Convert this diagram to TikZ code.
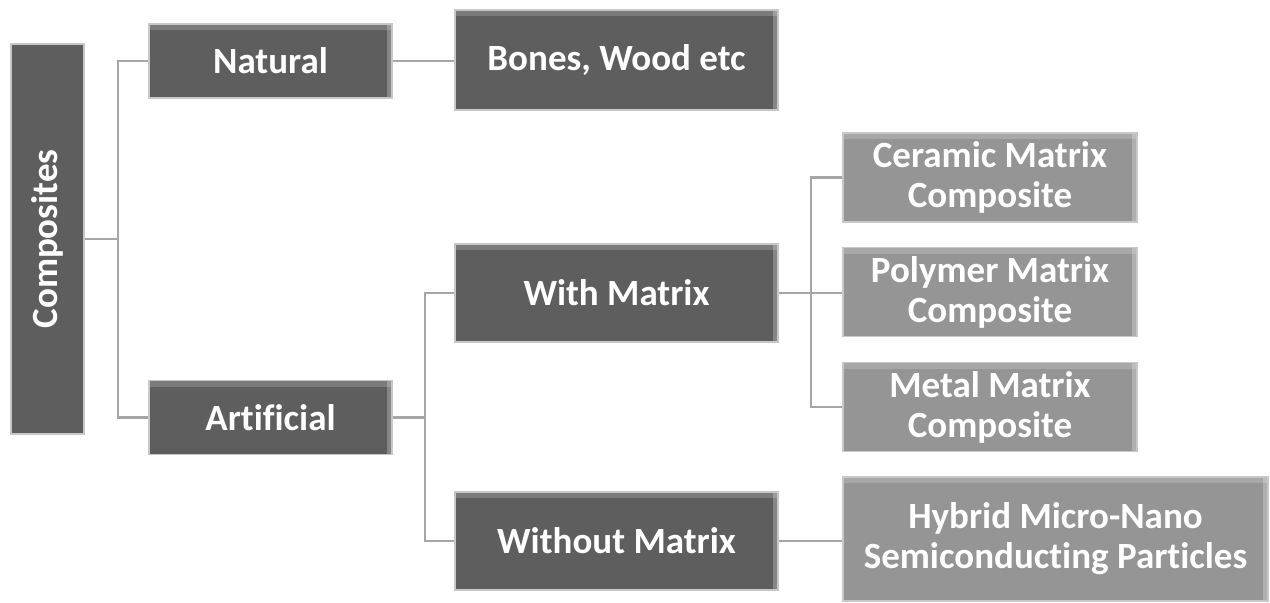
\documentclass[tikz,border=0pt]{standalone}
\usepackage{fontspec}
\setmainfont{Carlito}[Ligatures=NoCommon]
\usetikzlibrary{positioning}

\definecolor{darkbox}{HTML}{5E5E5E}
\definecolor{lightbox}{HTML}{959595}
\definecolor{edgeline}{HTML}{A6A6A6}
\definecolor{rimline}{HTML}{C8C8C8}

\begin{document}
\begin{tikzpicture}[
    x=0.5pt, y=-0.5pt,
    bevel/.style={path picture={
        \fill[white, opacity=0.18] (path picture bounding box.north west) rectangle ([yshift=-3pt]path picture bounding box.north east);
        \fill[white, opacity=0.25] ([xshift=-2.5pt]path picture bounding box.north east) rectangle (path picture bounding box.south east);}},
    box/.style={draw=rimline, line width=0.6pt, fill=darkbox, text=white, align=center,
        inner sep=0pt, font=\bfseries\fontsize{18.5}{20}\selectfont, bevel},
    lbox/.style={box, fill=lightbox},
    link/.style={draw=edgeline, line width=1.1pt}
  ]
    \useasboundingbox (0,0) rectangle (1270,602);

    \node[box, minimum width=195pt, minimum height=36.5pt, rotate=90] (comp) at (47.5,239) {Composites};

    \node[box, minimum width=121.5pt, minimum height=37pt] (natural) at (270.5,61) {Natural};
    \node[box, minimum width=121.5pt, minimum height=37pt] (artif) at (270.5,417.5) {Artificial};

    \node[box, minimum width=161.5pt, minimum height=50pt] (bones) at (616.5,60) {Bones, Wood etc};
    \node[box, minimum width=161.5pt, minimum height=49pt] (withm) at (616.5,293) {With Matrix};
    \node[box, minimum width=161.5pt, minimum height=49pt] (woutm) at (616.5,541) {Without Matrix};

    \node[lbox, minimum width=147pt, minimum height=44.5pt] (ceramic) at (990,177.5) {Ceramic Matrix\\Composite};
    \node[lbox, minimum width=147pt, minimum height=44.5pt] (polymer) at (990,292) {Polymer Matrix\\Composite};
    \node[lbox, minimum width=147pt, minimum height=44.5pt] (metal) at (990,407) {Metal Matrix\\Composite};
    \node[lbox, minimum width=212.5pt, minimum height=62pt] (hybrid) at (1055.5,539) {Hybrid Micro-Nano\\Semiconducting Particles};

    % tree links
    \draw[link] (comp.south) -- ++(33,0) coordinate (j1);
    \draw[link] (natural.west) -| (j1) |- (artif.west);
    \draw[link] (natural.east) -- (bones.west |- natural.east);

    \draw[link] (artif.east) -- ++(32,0) coordinate (j2);
    \draw[link] (withm.west) -| (j2) |- (woutm.west);
    \draw[link] (woutm.east) -- (hybrid.west |- woutm.east);

    \draw[link] (withm.east) -- ++(32,0) coordinate (j3);
    \draw[link] (ceramic.west) -| (j3) |- (metal.west);
    \draw[link] (j3 |- withm.east) -- (polymer.west |- withm.east);
  \end{tikzpicture}
\end{document}
